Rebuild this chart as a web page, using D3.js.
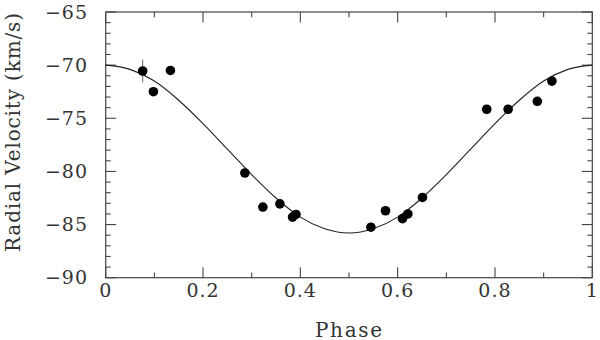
<!DOCTYPE html>
<html>
<head>
<meta charset="utf-8">
<script src="https://cdn.jsdelivr.net/npm/d3@7"></script>
<style>
  body { margin: 0; background: #fff; }
  text { font-family: "DejaVu Serif", "Liberation Serif", serif; fill: #333; }
</style>
</head>
<body>
<div id="chart"></div>
<script>
let phase    = [0.076, 0.098, 0.133, 0.286, 0.323, 0.358, 0.384, 0.391, 0.545, 0.575, 0.610, 0.621, 0.651, 0.783, 0.827, 0.887, 0.917];
let velocity = [-70.55, -72.5, -70.5, -80.15, -83.35, -83.05, -84.3, -84.05, -85.25, -83.7, -84.45, -84.0, -82.45, -74.15, -74.15, -73.4, -71.5];

// one representative error bar (on the first point)
let errIndex = 0;
let errSize = 1.07;

// orbit curve
let curvePhase = [0, 0.05, 0.1, 0.15, 0.2, 0.25, 0.3, 0.35, 0.4, 0.45, 0.5, 0.55, 0.6, 0.65, 0.7, 0.75, 0.8, 0.85, 0.9, 0.95, 1];
let curveVel   = [-70.0, -70.4, -71.5, -73.3, -75.5, -77.9, -80.3, -82.5, -84.3, -85.4, -85.8, -85.4, -84.3, -82.5, -80.3, -77.9, -75.5, -73.3, -71.5, -70.4, -70.0];

// tick labels
let xTicks = [0, 0.2, 0.4, 0.6, 0.8, 1];
let xLabels = ["0", "0.2", "0.4", "0.6", "0.8", "1"];
let yTicks = [-90, -85, -80, -75, -70, -65];
let yLabels = ["\u221290", "\u221285", "\u221280", "\u221275", "\u221270", "\u221265"];

let svgWidth = 600;
let svgHeight = 340;
let plotL = 105.7, plotR = 592.3, plotT = 12, plotB = 277.7;

let svg = d3.select("#chart")
  .append("svg")
  .attr("width", svgWidth)
  .attr("height", svgHeight);

let xScale = d3.scaleLinear().domain([0, 1]).range([plotL, plotR]);
let yScale = d3.scaleLinear().domain([-90, -65]).range([plotB, plotT]);

let axisColor = "#444";

// frame
svg.append("rect")
  .attr("x", plotL).attr("y", plotT)
  .attr("width", plotR - plotL).attr("height", plotB - plotT)
  .attr("fill", "none").attr("stroke", axisColor).attr("stroke-width", 1.2);

// ticks on all four sides (major + minor)
let xMinor = d3.range(0, 1.0001, 0.1);
let yMinor = d3.range(-90, -64.9, 1);

function xTickLen(d) { return Math.abs(Math.round(d * 10) % 2) === 0 ? 10.5 : 5.3; }
function yTickLen(d) { return Math.round(d) % 5 === 0 ? 10.5 : 5; }

let tickG = svg.append("g").attr("stroke", axisColor).attr("stroke-width", 1.1);

tickG.selectAll(".xb").data(xMinor).enter().append("line")
  .attr("x1", d => xScale(d)).attr("x2", d => xScale(d))
  .attr("y1", plotB).attr("y2", d => plotB - xTickLen(d));
tickG.selectAll(".xt").data(xMinor).enter().append("line")
  .attr("x1", d => xScale(d)).attr("x2", d => xScale(d))
  .attr("y1", plotT).attr("y2", d => plotT + xTickLen(d));
tickG.selectAll(".yl").data(yMinor).enter().append("line")
  .attr("y1", d => yScale(d)).attr("y2", d => yScale(d))
  .attr("x1", plotL).attr("x2", d => plotL + yTickLen(d));
tickG.selectAll(".yr").data(yMinor).enter().append("line")
  .attr("y1", d => yScale(d)).attr("y2", d => yScale(d))
  .attr("x1", plotR).attr("x2", d => plotR - yTickLen(d));

// tick labels
svg.selectAll(".xlab").data(xTicks).enter().append("text")
  .attr("x", d => xScale(d))
  .attr("y", 297)
  .attr("text-anchor", "middle")
  .attr("font-size", 19)
  .attr("letter-spacing", 1)
  .text((d, i) => xLabels[i]);

svg.selectAll(".ylab").data(yTicks).enter().append("text")
  .attr("x", 88)
  .attr("y", d => yScale(d) + 6.7)
  .attr("text-anchor", "end")
  .attr("font-size", 19)
  .attr("letter-spacing", 1)
  .text((d, i) => yLabels[i]);

// axis titles
svg.append("text")
  .attr("x", 348.5).attr("y", 336.5)
  .attr("text-anchor", "middle")
  .attr("font-size", 20)
  .attr("textLength", 67)
  .text("Phase");

svg.append("text")
  .attr("transform", "translate(20,132.5) rotate(-90)")
  .attr("text-anchor", "middle")
  .attr("font-size", 20)
  .attr("textLength", 239)
  .text("Radial Velocity (km/s)");

// model curve
let line = d3.line()
  .x(d => xScale(d[0]))
  .y(d => yScale(d[1]))
  .curve(d3.curveMonotoneX);

svg.append("path")
  .datum(curvePhase.map((p, i) => [p, curveVel[i]]))
  .attr("d", line)
  .attr("fill", "none")
  .attr("stroke", "#222")
  .attr("stroke-width", 1.1);

// error bar
svg.append("line")
  .attr("x1", xScale(phase[errIndex])).attr("x2", xScale(phase[errIndex]))
  .attr("y1", yScale(velocity[errIndex] + errSize))
  .attr("y2", yScale(velocity[errIndex] - errSize))
  .attr("stroke", "#666").attr("stroke-width", 1);

// data points
svg.selectAll(".pt").data(phase).enter().append("circle")
  .attr("cx", d => xScale(d))
  .attr("cy", (d, i) => yScale(velocity[i]))
  .attr("r", 4.8)
  .attr("fill", "#000");
</script>
</body>
</html>
